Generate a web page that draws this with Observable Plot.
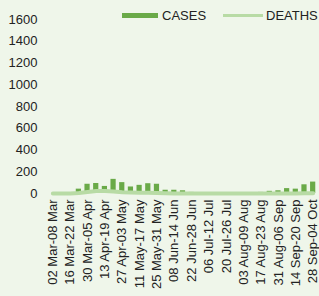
<!DOCTYPE html>
<html>
<head>
<meta charset="utf-8">
<script src="https://cdn.jsdelivr.net/npm/d3@7"></script>
<script src="https://cdn.jsdelivr.net/npm/@observablehq/plot@0.6"></script>
<style>
  html, body { margin: 0; padding: 0; background: #eff6ea; }
  #wrap { position: relative; width: 319px; height: 296px; overflow: hidden; font-family: "Liberation Sans", Arial, sans-serif; }
  .leg { position: absolute; font-size: 13px; color: #222; line-height: 1; }
  .sw { position: absolute; }
</style>
</head>
<body>
<div id="wrap">
  <div class="sw" style="left:122px; top:13px; width:36px; height:5px; background:#6aaa48;"></div>
  <div class="leg" style="left:162px; top:9px;">CASES</div>
  <div class="sw" style="left:223px; top:14px; width:40px; height:3px; background:#b8dba5;"></div>
  <div class="leg" style="left:266px; top:9px;">DEATHS</div>
  <div id="chart"></div>
</div>
<script>
const weeks = [
  "02 Mar-08 Mar","09 Mar-15 Mar","16 Mar-22 Mar","23 Mar-29 Mar","30 Mar-05 Apr",
  "06 Apr-12 Apr","13 Apr-19 Apr","20 Apr-26 Apr","27 Apr-03 May","04 May-10 May",
  "11 May-17 May","18 May-24 May","25 May-31 May","01 Jun-07 Jun","08 Jun-14 Jun",
  "15 Jun-21 Jun","22 Jun-28 Jun","29 Jun-05 Jul","06 Jul-12 Jul","13 Jul-19 Jul",
  "20 Jul-26 Jul","27 Jul-02 Aug","03 Aug-09 Aug","10 Aug-16 Aug","17 Aug-23 Aug",
  "24 Aug-30 Aug","31 Aug-06 Sep","07 Sep-13 Sep","14 Sep-20 Sep","21 Sep-27 Sep",
  "28 Sep-04 Oct"
];
const cases = [0, 2, 5, 40, 85, 92, 65, 130, 100, 60, 75, 90, 85, 30, 30, 25, 10, 4, 3, 3, 3, 3, 4, 6, 10, 20, 25, 45, 40, 80, 105];
const deaths = [0, 0, 1, 5, 14, 22, 24, 18, 12, 10, 8, 6, 4, 2, 1, 1, 1, 0, 0, 0, 0, 0, 0, 0, 0, 1, 1, 1, 1, 2, 2];
const yTicks = [0, 200, 400, 600, 800, 1000, 1200, 1400, 1600];

const data = weeks.map((w, i) => ({week: w, cases: cases[i], deaths: deaths[i]}));

const chart = Plot.plot({
  width: 319,
  height: 296,
  marginTop: 19,
  marginBottom: 103,
  marginLeft: 48,
  marginRight: 2,
  style: {background: "transparent", fontFamily: "'Liberation Sans', Arial, sans-serif", fontSize: "13px", color: "#222"},
  x: {type: "band", domain: weeks, paddingInner: 0.4, paddingOuter: 0.2, round: false, label: null},
  y: {domain: [0, 1600], label: null},
  marks: [
    Plot.barY(data, {x: "week", y: "cases", fill: "#6aaa48"}),
    Plot.line(data, {x: "week", y: "deaths", stroke: "#b8dba5", strokeWidth: 4}),
    Plot.axisX({ticks: weeks.filter((d, i) => i % 2 === 0), tickRotate: -90, tickSize: 0, tickPadding: 6, label: null, fill: "#222"}),
    Plot.axisY({ticks: yTicks, tickFormat: "d", tickSize: 0, tickPadding: 11, label: null, fill: "#222"})
  ]
});
document.getElementById("chart").appendChild(chart);
</script>
</body>
</html>
